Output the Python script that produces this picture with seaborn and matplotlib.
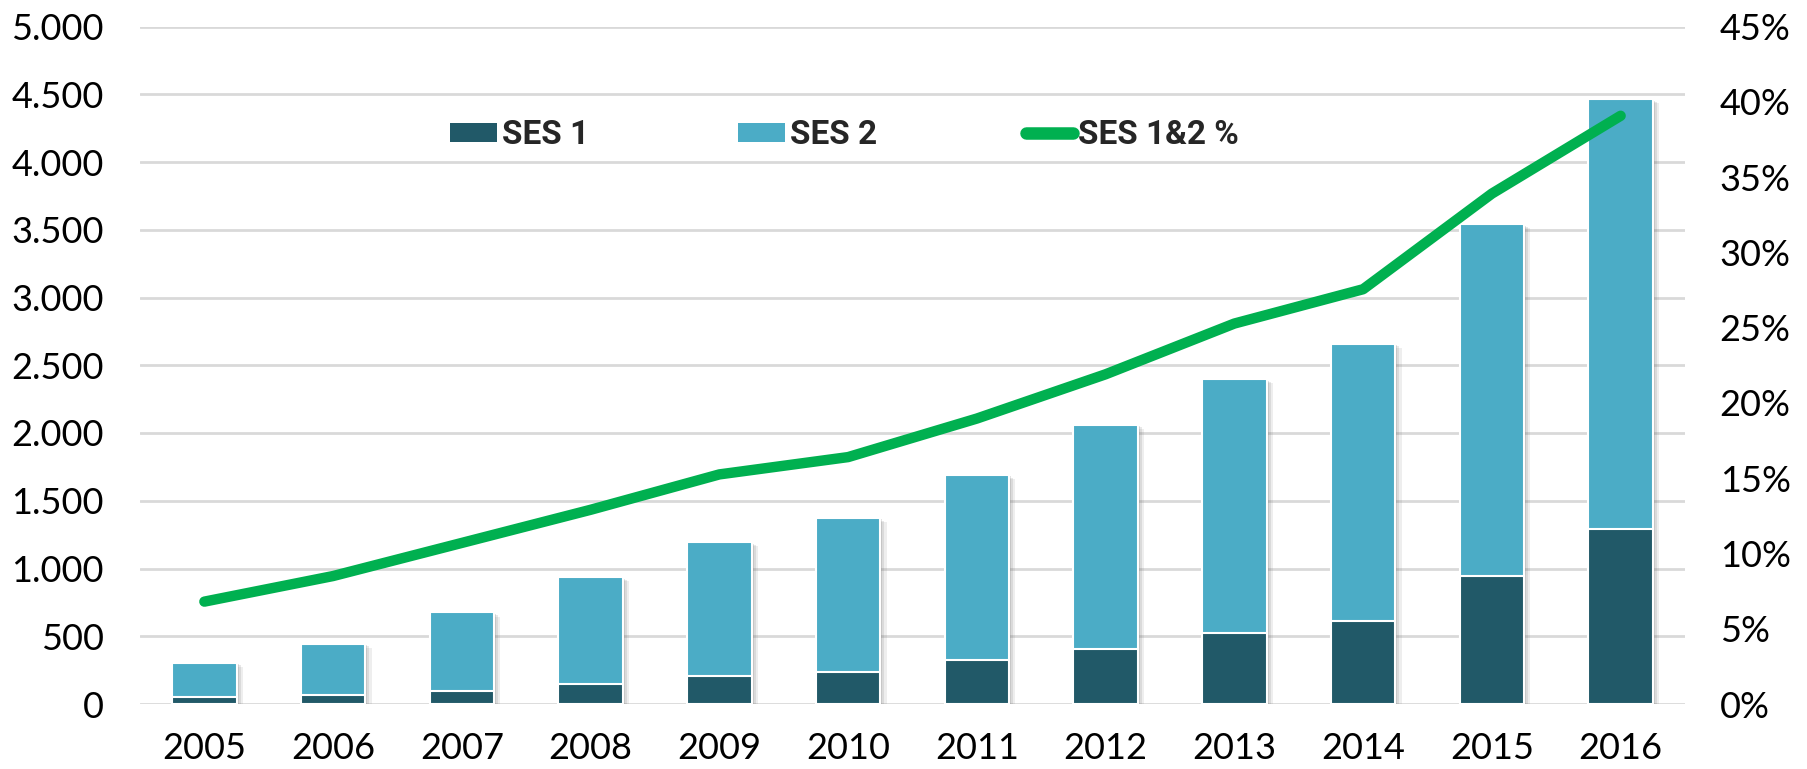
import numpy as np
import pandas as pd
import matplotlib
matplotlib.use("Agg")
import matplotlib.pyplot as plt
import matplotlib.patheffects as pe
from matplotlib.patches import Patch
from matplotlib.lines import Line2D
from matplotlib.ticker import FuncFormatter, MultipleLocator
import seaborn as sns

years = ["2005", "2006", "2007", "2008", "2009", "2010",
         "2011", "2012", "2013", "2014", "2015", "2016"]
ses1 = [49, 63, 98, 148, 205, 234, 323, 404, 525, 612, 946, 1290]
ses2 = [256, 383, 578, 788, 989, 1140, 1367, 1658, 1872, 2048, 2595, 3174]
pct = [6.8, 8.5, 10.7, 12.9, 15.25, 16.4, 18.96, 21.9, 25.27, 27.55, 33.9, 39.07]

C1 = "#215968"
C2 = "#4BACC6"
CG = "#00B050"
GRID = "#D9D9D9"

df = pd.DataFrame({"year": years, "ses1": ses1, "ses2": ses2, "pct": pct})
df["total"] = df["ses1"] + df["ses2"]

sns.set_theme(style="white")
plt.rcParams["font.family"] = ["Lato", "DejaVu Sans"]

fig = plt.figure(figsize=(18.08, 7.69), dpi=100)
ax = fig.add_axes([140 / 1808, 1 - 704 / 769, (1685 - 140) / 1808, (704 - 26.5) / 769])

sns.barplot(data=df, x="year", y="total", color=C2, saturation=1, width=0.5,
            edgecolor="white", linewidth=1.5, ax=ax, zorder=2)
shadow = [pe.SimplePatchShadow(offset=(1.5, -1), shadow_rgbFace="#606060", alpha=0.18),
          pe.SimplePatchShadow(offset=(3, -2), shadow_rgbFace="#606060", alpha=0.14),
          pe.SimplePatchShadow(offset=(4.5, -3), shadow_rgbFace="#606060", alpha=0.10),
          pe.Normal()]
for p in ax.patches:
    p.set_path_effects(shadow)
sns.barplot(data=df, x="year", y="ses1", color=C1, saturation=1, width=0.5,
            edgecolor="white", linewidth=1.5, ax=ax, zorder=3)

ax.set_xlim(-0.5, len(years) - 0.5)
ax.set_ylim(0, 5000)
ax.yaxis.set_major_locator(MultipleLocator(500))
ax.yaxis.set_major_formatter(FuncFormatter(lambda v, _: f"{int(v):,}".replace(",", ".")))
ax.grid(axis="y", color=GRID, linewidth=2, zorder=0)
ax.set_axisbelow(True)
for s in ax.spines.values():
    s.set_visible(False)
ax.set_xlabel("")
ax.set_ylabel("")
ax.tick_params(axis="both", length=0, labelsize=26, colors="black")
ax.tick_params(axis="y", pad=26)
ax.tick_params(axis="x", pad=20)

ax2 = ax.twinx()
sns.lineplot(x=np.arange(len(years)), y=df["pct"], color=CG, linewidth=7.5,
             solid_capstyle="round", ax=ax2, zorder=4)
ax2.set_ylim(0, 45)
ax2.yaxis.set_major_locator(MultipleLocator(5))
ax2.yaxis.set_major_formatter(FuncFormatter(lambda v, _: f"{int(round(v))}%"))
ax2.tick_params(axis="y", length=0, labelsize=26, pad=25, colors="black")
ax2.set_ylabel("")
ax2.grid(False)
for s in ax2.spines.values():
    s.set_visible(False)
ax2.set_xlim(-0.5, len(years) - 0.5)

lfont = {"family": ["Liberation Sans Narrow", "Roboto", "DejaVu Sans"], "weight": "bold", "size": 24}
items = [
    (Patch(facecolor=C1, edgecolor="none"), "SES 1", 450),
    (Patch(facecolor=C2, edgecolor="none"), "SES 2", 738),
    (Line2D([0], [0], color=CG, linewidth=9, solid_capstyle="round"), "SES 1&2 %", 1026),
]
for h, lab, xpx in items:
    leg = fig.legend([h], [lab], loc="center left",
                     bbox_to_anchor=(xpx / 1808, 1 - 135 / 769),
                     frameon=False, prop=lfont, handlelength=1.4, handleheight=0.5,
                     handletextpad=0.15, borderpad=0, borderaxespad=0)

fig.savefig("out.png", dpi=100)
